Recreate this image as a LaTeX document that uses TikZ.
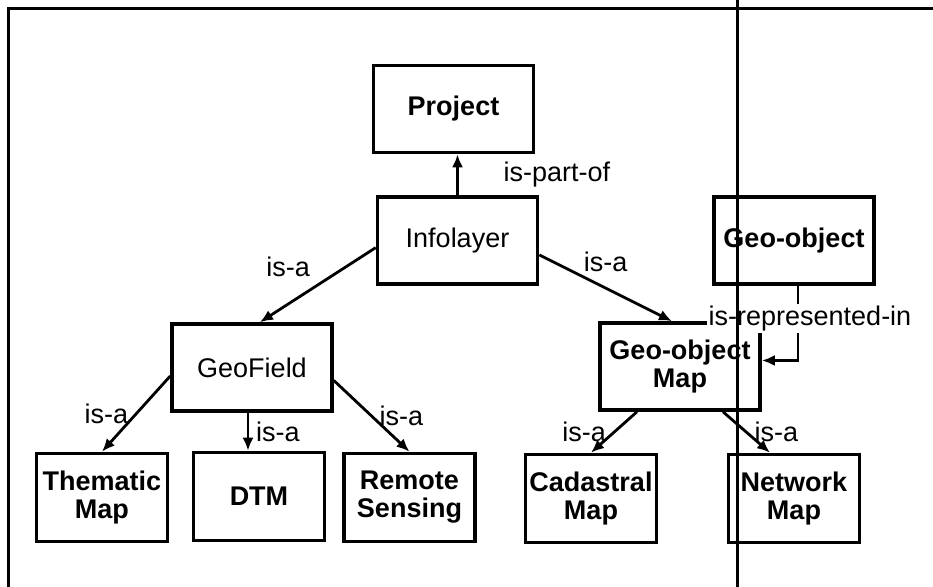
\documentclass[tikz,border=0pt]{standalone}
\usepackage{fontspec}
\setmainfont{Liberation Sans}
\usepackage{tikz}
\usetikzlibrary{arrows.meta}

\begin{document}
\begin{tikzpicture}[auto, >={Latex[length=6.5pt,width=5.5pt]}, x=1pt, y=1pt]
    \tikzstyle{every node} = [font=\fontsize{13.5}{14}\selectfont]
    \tikzstyle{textbox} = [align=center, draw, line width=1.8pt, inner sep=1pt]
    \tikzstyle{classbox} = [textbox, minimum width=80pt, minimum height=43.5pt]
    \tikzstyle{heavybox} = [classbox, font=\fontsize{13.5}{14}\selectfont\bfseries]
    \tikzstyle{leafbox} = [textbox, font=\fontsize{13.5}{14}\selectfont\bfseries, minimum width=65.5pt, minimum height=44pt]
    \tikzstyle{rel} = [->, line width=1.4pt]
    \tikzstyle{frame} = [line width=1.5pt]

    \useasboundingbox (-228.75,-173.25) rectangle (237.75,120.25);

    \node (infolayer) [classbox] at (0,0) {Infolayer};
    \node (project) [heavybox, above of=infolayer, node distance=65.75pt, xshift=-2pt] {Project};
    \node (geoobj) [heavybox, right of=infolayer, node distance=168.25pt] {Geo-object};
    \node (geofield) [classbox, below of=infolayer, node distance=63.5pt, xshift=-102.75pt] {GeoField};
    \node (geomap) [heavybox, below of=infolayer, node distance=63pt, xshift=111.25pt] {Geo-object\\Map};
    \node (thematic) [leafbox, below of=geofield, node distance=65pt, xshift=-75pt] {Thematic\\Map};
    \node (dtm) [leafbox, below of=geofield, node distance=64.5pt, xshift=3.5pt] {DTM};
    \node (remote) [leafbox, below of=geofield, node distance=65pt, xshift=78.75pt] {Remote\\Sensing};
    \node (cadastral) [leafbox, below of=geomap, node distance=66pt, xshift=-44.5pt] {Cadastral\\Map};
    \node (network) [leafbox, below of=geomap, node distance=66pt, xshift=57pt] {Network\\Map};

    \draw [rel] (infolayer.north) -- (infolayer.north |- project.south) node [midway, right=19pt] {is-part-of};
    \draw [rel] (infolayer.185) -- ([xshift=4pt]geofield.north) node [midway, above left] {is-a};
    \draw [rel] (infolayer.-10) -- ([xshift=-4pt]geomap.north) node [midway, above=4pt] {is-a};
    \draw [rel] (geofield.186) -- (thematic.north) node [midway, left] {is-a};
    \draw [rel] ([xshift=-2pt]geofield.south) -- ([xshift=-2pt]geofield.south |- dtm.north) node [midway, right] {is-a};
    \draw [rel] (geofield.-9) -- (remote.north) node [midway, right] {is-a};
    \draw [rel] ([xshift=-21.5pt]geomap.south) -- (cadastral.north) node [midway, left] {is-a};
    \draw [rel] ([xshift=21.5pt]geomap.south) -- ([xshift=-12pt]network.north) node [midway, right] {is-a};
    \draw [rel] ([xshift=2pt]geoobj.south) |- ([yshift=3pt]geomap.east) node [pos=0.22, anchor=center, fill=white, inner sep=1pt, xshift=6pt] {is-represented-in};

    \draw [frame] (-224.25,-173.25) |- (237.75,115.75);
    \draw [frame] (140.25,120.25) -- (140.25,-173.25);
  \end{tikzpicture}
\end{document}
